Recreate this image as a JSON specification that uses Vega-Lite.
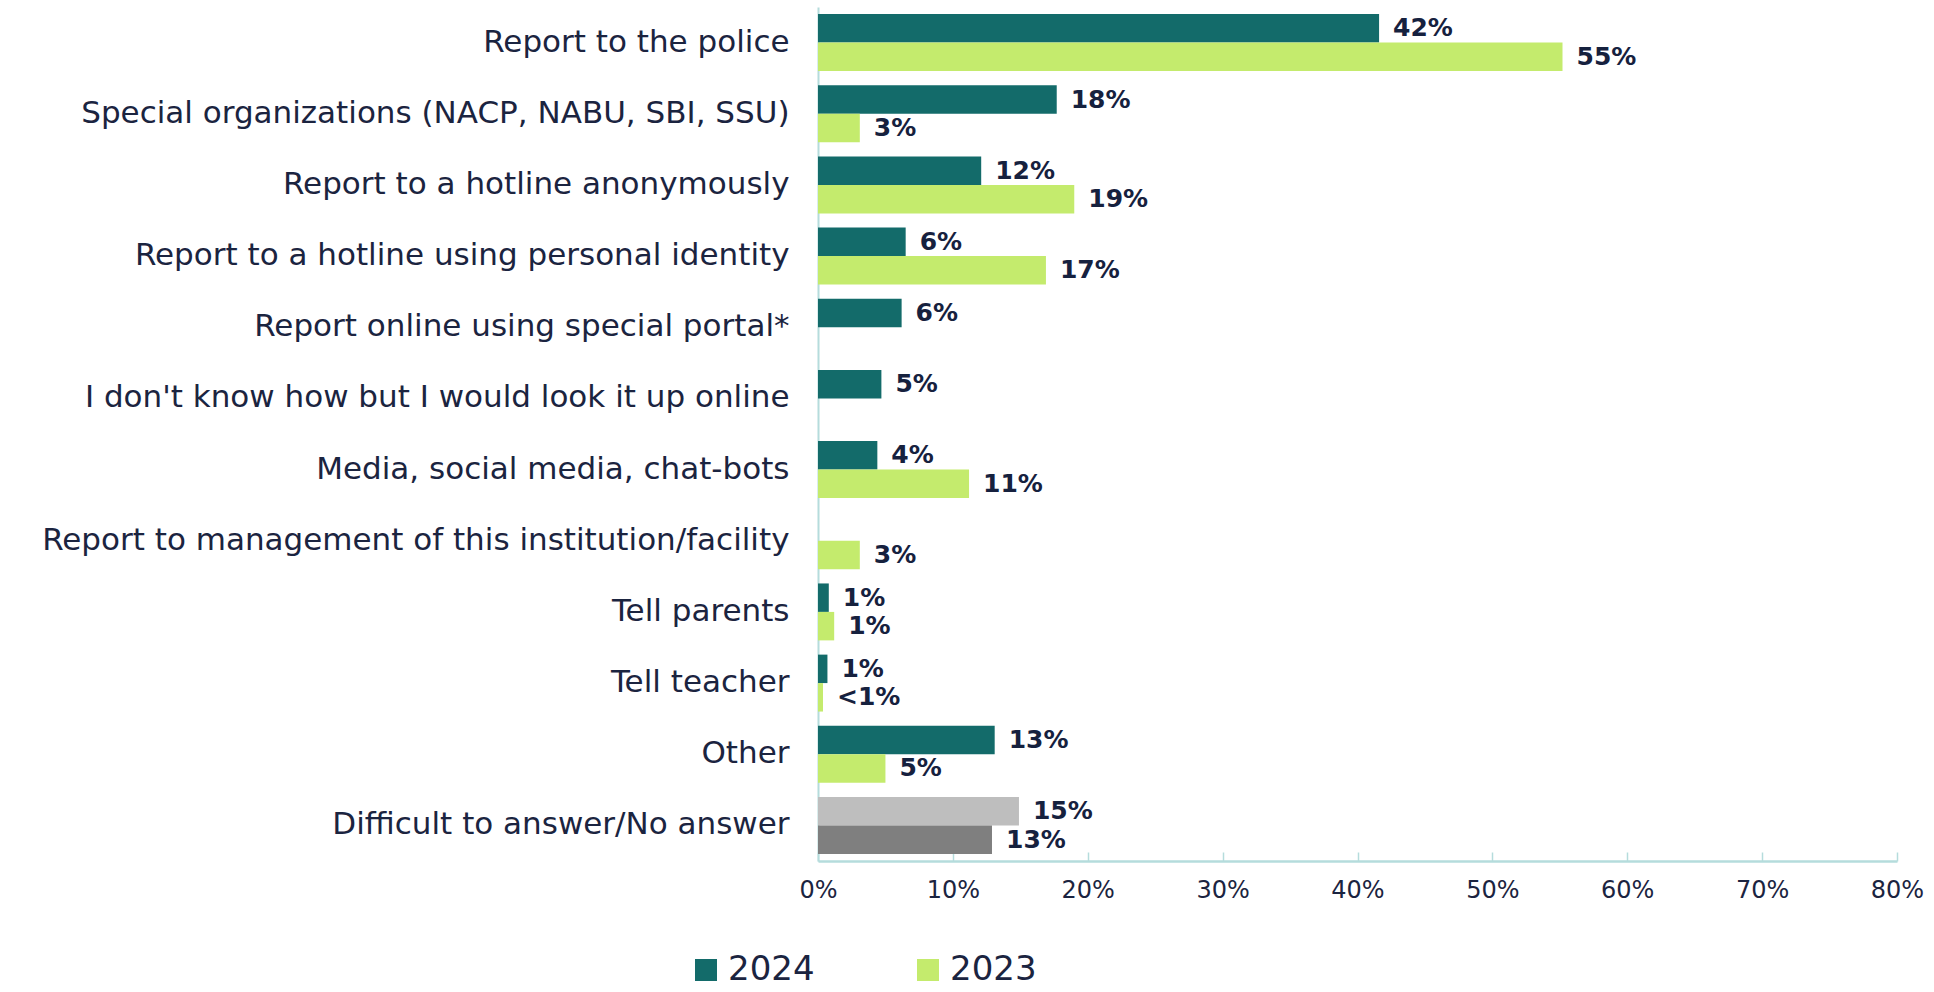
{
  "$schema": "https://vega.github.io/schema/vega-lite/v6.json",
  "autosize": {"type": "none"},
  "width": 1079,
  "height": 854,
  "padding": {"left": 818, "top": 7, "right": 37, "bottom": 131},
  "background": "white",
  "config": {"view": {"stroke": null}, "font": "DejaVu Sans"},
  "data": {"values": [
    {"cat": "Report to the police", "year": "2024", "series": "2024", "value": 41.6, "label": "42%"},
    {"cat": "Report to the police", "year": "2023", "series": "2023", "value": 55.2, "label": "55%"},
    {"cat": "Special organizations (NACP, NABU, SBI, SSU)", "year": "2024", "series": "2024", "value": 17.7, "label": "18%"},
    {"cat": "Special organizations (NACP, NABU, SBI, SSU)", "year": "2023", "series": "2023", "value": 3.1, "label": "3%"},
    {"cat": "Report to a hotline anonymously", "year": "2024", "series": "2024", "value": 12.1, "label": "12%"},
    {"cat": "Report to a hotline anonymously", "year": "2023", "series": "2023", "value": 19.0, "label": "19%"},
    {"cat": "Report to a hotline using personal identity", "year": "2024", "series": "2024", "value": 6.5, "label": "6%"},
    {"cat": "Report to a hotline using personal identity", "year": "2023", "series": "2023", "value": 16.9, "label": "17%"},
    {"cat": "Report online using special portal*", "year": "2024", "series": "2024", "value": 6.2, "label": "6%"},
    {"cat": "I don't know how but I would look it up online", "year": "2024", "series": "2024", "value": 4.7, "label": "5%"},
    {"cat": "Media, social media, chat-bots", "year": "2024", "series": "2024", "value": 4.4, "label": "4%"},
    {"cat": "Media, social media, chat-bots", "year": "2023", "series": "2023", "value": 11.2, "label": "11%"},
    {"cat": "Report to management of this institution/facility", "year": "2023", "series": "2023", "value": 3.1, "label": "3%"},
    {"cat": "Tell parents", "year": "2024", "series": "2024", "value": 0.8, "label": "1%"},
    {"cat": "Tell parents", "year": "2023", "series": "2023", "value": 1.2, "label": "1%"},
    {"cat": "Tell teacher", "year": "2024", "series": "2024", "value": 0.7, "label": "1%"},
    {"cat": "Tell teacher", "year": "2023", "series": "2023", "value": 0.37, "label": "<1%"},
    {"cat": "Other", "year": "2024", "series": "2024", "value": 13.1, "label": "13%"},
    {"cat": "Other", "year": "2023", "series": "2023", "value": 5.0, "label": "5%"},
    {"cat": "Difficult to answer/No answer", "year": "2024", "series": "g2024", "value": 14.9, "label": "15%"},
    {"cat": "Difficult to answer/No answer", "year": "2023", "series": "g2023", "value": 12.9, "label": "13%"}
  ]},
  "encoding": {
    "y": {
      "field": "cat", "type": "nominal", "sort": null, "title": null,
      "scale": {"paddingInner": 0.2, "paddingOuter": 0.1},
      "axis": {
        "ticks": false, "labelPadding": 29, "labelLimit": 900,
        "labelFontSize": 31, "labelFontWeight": "normal", "labelColor": "#1b2440",
        "domainColor": "#b5dcdc", "domainWidth": 2
      }
    },
    "yOffset": {"field": "year", "type": "nominal", "sort": ["2024", "2023"], "scale": {"paddingInner": 0, "paddingOuter": 0}},
    "x": {
      "field": "value", "type": "quantitative", "title": null,
      "scale": {"domain": [0, 80], "nice": false},
      "axis": {
        "values": [0, 10, 20, 30, 40, 50, 60, 70, 80],
        "labelExpr": "datum.value + '%'", "labelFlush": false,
        "grid": false, "tickSize": -9, "tickColor": "#b5dcdc", "tickWidth": 1.5,
        "domainColor": "#b5dcdc", "domainWidth": 2.5,
        "labelPadding": 26, "labelFontSize": 24, "labelFontWeight": "normal", "labelColor": "#1b2440"
      }
    }
  },
  "layer": [
    {
      "mark": {"type": "bar"},
      "encoding": {
        "color": {
          "field": "series", "type": "nominal",
          "scale": {"domain": ["2024", "2023", "g2024", "g2023"], "range": ["#136b6a", "#c4eb6d", "#bebebe", "#7f7f7f"]},
          "legend": {
            "values": ["2024", "2023"], "title": null, "orient": "none", "direction": "horizontal",
            "legendX": -129, "legendY": 946, "symbolType": "square", "symbolSize": 484,
            "symbolStrokeWidth": 0, "labelFontSize": 34, "labelFontWeight": "normal", "labelColor": "#1b2440",
            "labelOffset": 5, "columnPadding": 96, "labelLimit": 300
          }
        }
      }
    },
    {
      "mark": {"type": "text", "align": "left", "baseline": "middle", "dx": 14, "fontSize": 25, "fontWeight": "bold", "color": "#16213e"},
      "encoding": {"text": {"field": "label", "type": "nominal"}}
    }
  ]
}
